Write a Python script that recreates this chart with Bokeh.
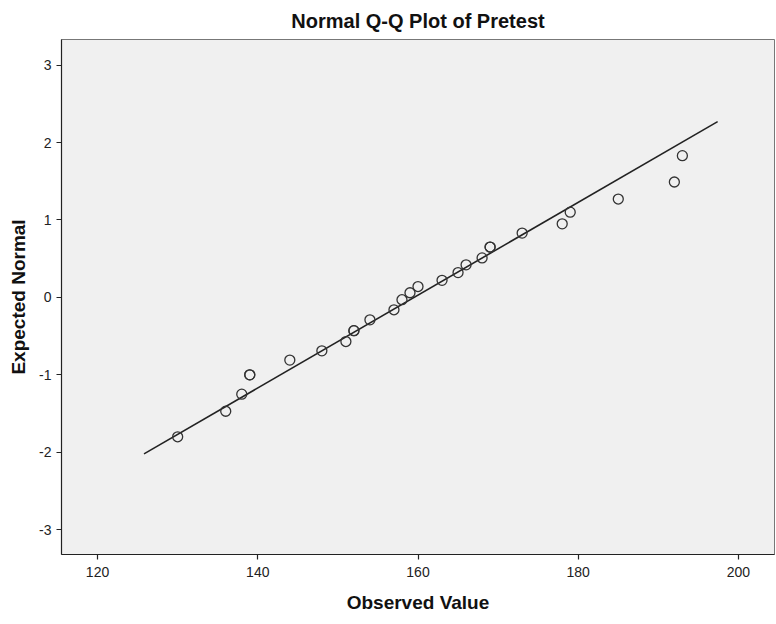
from bokeh.plotting import figure
from bokeh.models import Range1d, FixedTicker, Title
from bokeh.embed import file_html
from bokeh.resources import INLINE

observed = [130, 136, 138, 139, 139, 144, 148, 151, 152, 152, 154, 157, 158, 159,
            160, 163, 165, 166, 168, 169, 169, 173, 178, 179, 185, 192, 193]
expected = [-1.80, -1.47, -1.25, -1.00, -1.00, -0.81, -0.69, -0.57, -0.43, -0.43,
            -0.29, -0.16, -0.03, 0.06, 0.14, 0.22, 0.32, 0.42, 0.51, 0.65, 0.65,
            0.83, 0.95, 1.10, 1.27, 1.49, 1.83]
# Reference line end points
line_x = [125.8, 197.4]
line_y = [-2.02, 2.27]

x_ticks = [120, 140, 160, 180, 200]
y_ticks = [-3, -2, -1, 0, 1, 2, 3]
y_tick_labels = ["-3", "-2", "-1", "0", "1", "2", "3"]

FONT = "Liberation Sans"

p = figure(width=775, height=622, output_backend="svg", toolbar_location=None,
           x_range=Range1d(115.5, 204.5), y_range=Range1d(-3.32, 3.33),
           min_border_left=61, min_border_right=1, min_border_top=39, min_border_bottom=68)

p.title = Title(text="Normal Q-Q Plot of Pretest", align="center",
                text_font=FONT, text_font_size="20px", text_font_style="bold",
                text_color="#111111", standoff=15)

p.background_fill_color = "#f0f0f0"
p.border_fill_color = "white"
p.outline_line_color = "#777777"
p.outline_line_width = 1
p.xgrid.visible = False
p.ygrid.visible = False

p.line(line_x, line_y, line_color="#222222", line_width=1.6)
p.scatter(observed, expected, marker="circle", size=10, fill_alpha=0,
          line_color="#333333", line_width=1.3)

for ax in (p.xaxis[0], p.yaxis[0]):
    ax.axis_line_color = "#222222"
    ax.axis_line_width = 1.2
    ax.major_tick_line_color = "#222222"
    ax.major_tick_line_width = 1.2
    ax.major_tick_out = 5
    ax.major_tick_in = 0
    ax.minor_tick_line_color = None
    ax.major_label_text_font = FONT
    ax.major_label_text_font_size = "14px"
    ax.major_label_text_color = "#222222"
    ax.axis_label_text_font = FONT
    ax.axis_label_text_font_size = "19px"
    ax.axis_label_text_font_style = "bold"
    ax.axis_label_text_color = "#111111"

p.xaxis.ticker = FixedTicker(ticks=x_ticks)
p.yaxis.ticker = FixedTicker(ticks=y_ticks)
p.yaxis.major_label_overrides = {t: s for t, s in zip(y_ticks, y_tick_labels)}
p.xaxis.axis_label = "Observed Value"
p.yaxis.axis_label = "Expected Normal"
p.xaxis.major_label_standoff = 7
p.yaxis.major_label_standoff = 5
p.xaxis.axis_label_standoff = 12
p.yaxis.axis_label_standoff = 7

open("out.html", "w").write(file_html(p, INLINE))
